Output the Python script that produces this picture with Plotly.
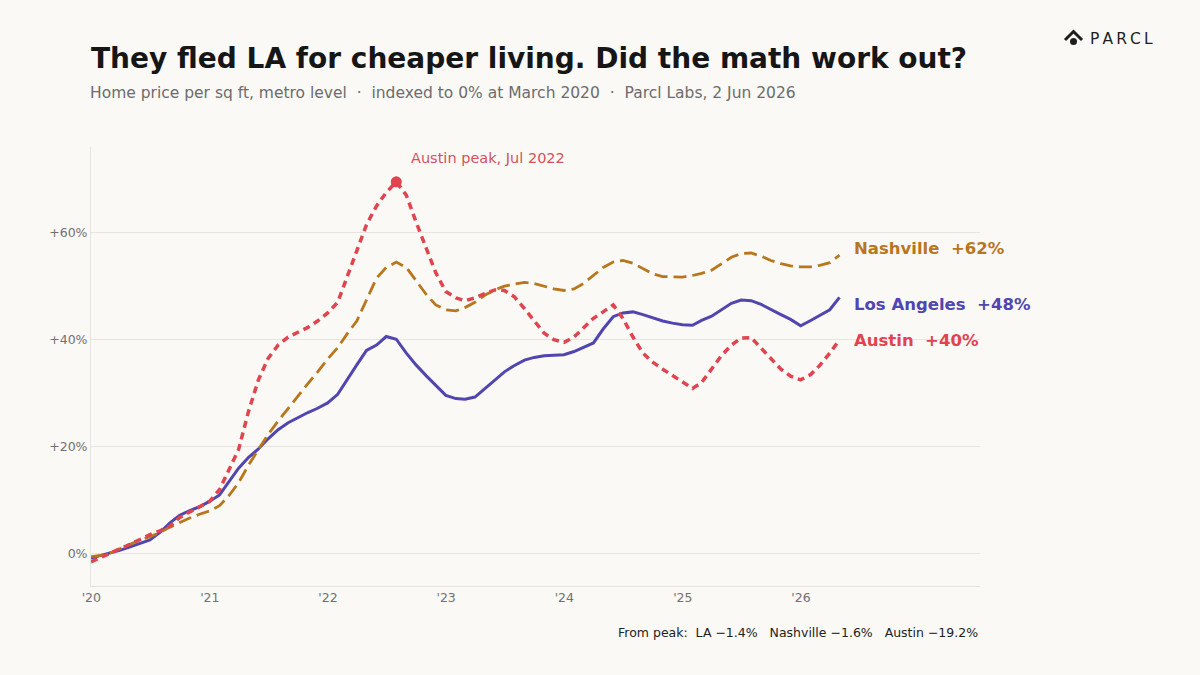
import pandas as pd
import plotly.graph_objects as go

# monthly index values (%), month-end dates from Dec 2019
dates = pd.date_range("2019-12-31", periods=77, freq="ME")

la = [-0.8, -0.3, 0.2, 0.7, 1.3, 1.9, 2.6, 4.0, 5.8, 7.2, 8.1, 8.8, 9.8,
      11.0, 13.3, 16.0, 18.0, 19.6, 21.5, 23.2, 24.5, 25.5, 26.4, 27.2, 28.2,
      29.8, 32.3, 35.3, 38.0, 39.0, 40.6, 40.1, 37.5, 35.3, 33.3, 31.4, 29.6,
      29.0, 28.9, 29.3, 30.8, 32.5, 34.0, 35.2, 36.2, 36.7, 37.0, 37.1, 37.2,
      37.8, 38.6, 39.4, 42.0, 44.3, 45.0, 45.2, 44.7, 44.1, 43.5, 43.1, 42.8,
      42.7, 43.6, 44.4, 45.6, 46.8, 47.4, 47.3, 46.6, 45.6, 44.7, 43.8, 42.6,
      43.6, 44.5, 45.6, 47.9]

nashville = [-0.5, -0.3, 0.2, 1.0, 1.8, 2.6, 3.2, 4.0, 5.0, 5.9, 6.7, 7.4, 8.0,
             9.0, 10.8, 13.3, 16.5, 19.5, 22.3, 24.8, 27.2, 29.5, 31.8, 34.0, 36.4,
             38.5, 41.0, 43.5, 47.5, 51.5, 53.5, 54.5, 53.5, 51.0, 48.5, 46.5, 45.6,
             45.4, 46.0, 47.0, 48.3, 49.3, 50.0, 50.4, 50.7, 50.5, 50.0, 49.5, 49.2,
             49.5, 50.5, 52.0, 53.5, 54.5, 54.8, 54.3, 53.3, 52.3, 51.8, 51.7, 51.7,
             52.0, 52.4, 53.0, 54.2, 55.4, 56.1, 56.2, 55.6, 54.8, 54.2, 53.8, 53.6,
             53.6, 53.9, 54.4, 55.8]

austin = [-1.5, -0.6, 0.2, 1.0, 1.8, 2.7, 3.6, 4.3, 5.2, 6.8, 7.8, 8.7, 9.8,
          12.0, 15.5, 19.5, 26.5, 32.5, 36.5, 39.0, 40.5, 41.3, 42.3, 43.5, 45.0,
          47.0, 51.5, 56.5, 61.5, 65.0, 67.5, 69.5, 67.0, 62.0, 57.0, 52.5, 49.0,
          47.8, 47.3, 47.8, 48.6, 49.3, 49.2, 48.0, 45.8, 43.5, 41.2, 40.0, 39.5,
          40.5, 42.3, 44.0, 45.2, 46.5, 44.0, 40.5, 37.5, 35.8, 34.5, 33.3, 32.2,
          30.9, 32.0, 34.5, 37.0, 39.0, 40.3, 40.4, 38.5, 36.5, 34.5, 33.2, 32.5,
          33.5, 35.2, 37.5, 40.0]

year_ticks = ["2020-01-01", "2021-01-01", "2022-01-01", "2023-01-01",
              "2024-01-01", "2025-01-01", "2026-01-01"]
year_labels = ["'20", "'21", "'22", "'23", "'24", "'25", "'26"]
y_ticks = [0, 20, 40, 60]
y_labels = ["0%", "+20%", "+40%", "+60%"]

end_labels = [("Nashville  +62%", 57.0), ("Los Angeles  +48%", 46.5), ("Austin  +40%", 39.8)]
from_peak = "From peak:  LA \u22121.4%   Nashville \u22121.6%   Austin \u221219.2%"

C_LA = "#5145b0"
C_NASH = "#b8761d"
C_AUS = "#e0444e"
BG = "#faf9f6"
FONT = "DejaVu Sans"

W, H = 1200, 675
L, R, T, B = 91, 220, 147, 89
pw, ph = W - L - R, H - T - B


def px(x):
    return (x - L) / pw


def py(y):
    return (H - B - y) / ph


fig = go.Figure()

fig.add_trace(go.Scatter(x=dates, y=la, mode="lines", name="Los Angeles",
                         line=dict(color=C_LA, width=3)))
fig.add_trace(go.Scatter(x=dates, y=nashville, mode="lines", name="Nashville",
                         line=dict(color=C_NASH, width=2.8, dash="13px,6px")))
fig.add_trace(go.Scatter(x=dates, y=austin, mode="lines", name="Austin",
                         line=dict(color=C_AUS, width=3.5, dash="7px,5px")))

# austin peak marker
pk = austin.index(max(austin))
fig.add_trace(go.Scatter(x=[dates[pk]], y=[austin[pk]], mode="markers",
                         marker=dict(color=C_AUS, size=11), hoverinfo="skip"))

annotations = [
    dict(x=dates[pk], y=austin[pk], xref="x", yref="y", text="Austin peak, Jul 2022",
         showarrow=False, xanchor="left", yanchor="middle", xshift=13, yshift=24,
         font=dict(family=FONT, size=14.5, color="#d4515a")),
    dict(x=px(89), y=py(58), xref="paper", yref="paper", xanchor="left", yanchor="middle",
         text="<b>They fled LA for cheaper living. Did the math work out?</b>",
         showarrow=False, font=dict(family=FONT, size=28, color="#161616")),
    dict(x=px(88), y=py(93), xref="paper", yref="paper", xanchor="left", yanchor="middle",
         text="Home price per sq ft, metro level  \u00b7  indexed to 0% at March 2020  \u00b7  Parcl Labs, 2 Jun 2026",
         showarrow=False, font=dict(family=FONT, size=15.5, color="#6c6c6c")),
    dict(x=1, y=py(632), xref="paper", yref="paper", xanchor="right", yanchor="middle",
         text=from_peak, showarrow=False, font=dict(family=FONT, size=12.5, color="#222222")),
    dict(x=px(1088), y=py(39), xref="paper", yref="paper", xanchor="left", yanchor="middle",
         text="P\u2009A\u2009R\u2009C\u2009L", showarrow=False,
         font=dict(family=FONT, size=15.5, color="#1e1e1e")),
]
for (txt, yv), col in zip(end_labels, [C_NASH, C_LA, C_AUS]):
    annotations.append(dict(x=px(852), y=yv, xref="paper", yref="y", text=f"<b>{txt}</b>",
                            showarrow=False, xanchor="left", yanchor="middle",
                            font=dict(family=FONT, size=16.5, color=col)))

# logo mark
shapes = [
    dict(type="path", xref="paper", yref="paper",
         path=f"M {px(1065)} {py(40)} L {px(1073.5)} {py(31.5)} L {px(1082)} {py(40)}",
         line=dict(color="#1e1e1e", width=3)),
    dict(type="circle", xref="paper", yref="paper",
         x0=px(1070), x1=px(1077), y0=py(45), y1=py(38),
         fillcolor="#1e1e1e", line=dict(width=0)),
]

fig.update_layout(
    width=W, height=H,
    paper_bgcolor=BG, plot_bgcolor=BG,
    margin=dict(l=L, r=R, t=T, b=B),
    showlegend=False,
    font=dict(family=FONT, size=12, color="#707070"),
    annotations=annotations,
    shapes=shapes,
    xaxis=dict(range=["2019-12-31", "2027-07-08"], tickvals=year_ticks, ticktext=year_labels,
               showgrid=False, zeroline=False, showline=True, linecolor="#e4e1dc", linewidth=1,
               ticks="", tickfont=dict(size=12.5, color="#707070")),
    yaxis=dict(range=[-6, 76], tickvals=y_ticks, ticktext=y_labels,
               showgrid=True, gridcolor="#e8e5e0", gridwidth=1, zeroline=False,
               showline=True, linecolor="#e8e5e0", linewidth=1, ticks="",
               tickfont=dict(size=12.5, color="#707070")),
)

fig.write_html("out.html", config={"displayModeBar": False},
               post_script="document.body.style.margin='0';"
               "document.body.style.background='" + BG + "';")
